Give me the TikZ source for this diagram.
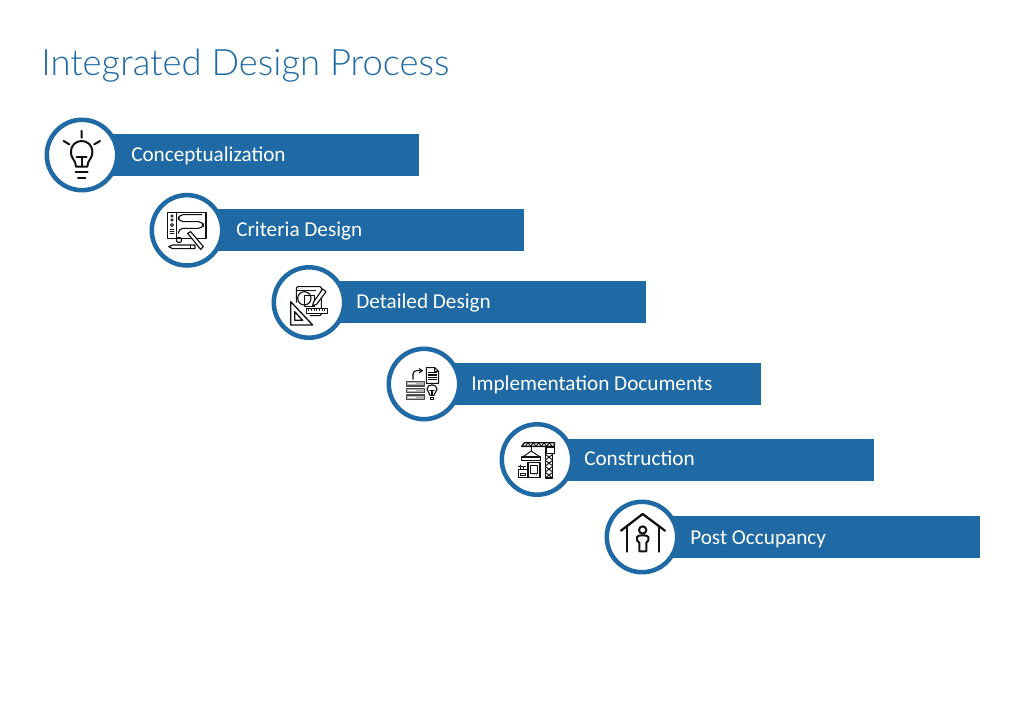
\documentclass[tikz,border=0pt]{standalone}
\usepackage{fontspec}
\setmainfont{Carlito}
\newfontfamily\titlefont{Lato Light}
\definecolor{brandblue}{HTML}{1F6AA5}
\definecolor{ink}{HTML}{111111}
\tikzset{
  barbox/.style={fill=brandblue,draw=none,inner sep=0pt,minimum height=31.5pt,anchor=west},
  ringbox/.style={circle,draw=brandblue,line width=3.4pt,fill=white,inner sep=0pt,minimum size=52.8pt},
  barlabel/.style={anchor=base west,inner sep=0pt,text=white,font=\fontsize{15.9}{18}\selectfont},
  icon/.style={draw=ink,line width=0.7pt,line cap=round,line join=round},
  iconbold/.style={draw=ink,line width=1.5pt,line cap=round,line join=round},
  icongrid/.style={scale=0.3333}
}
\begin{document}
\begin{tikzpicture}[x=0.75pt,y=-0.75pt]
\useasboundingbox (0,0) rectangle (1024,724);
\fill[white] (0,0) rectangle (1024,724);
\node[anchor=base west,inner sep=0pt,text=brandblue,font=\titlefont\fontsize{27.3}{32}\selectfont] (title) at (41,75) {Integrated Design Process};
% bars
\node[barbox,minimum width=252.75pt] (bar1) at (82,155) {};
\node[barbox,minimum width=252.75pt] (bar2) at (187,230.3) {};
\node[barbox,minimum width=252.75pt] (bar3) at (309,302.3) {};
\node[barbox,minimum width=252.75pt] (bar4) at (424,384) {};
\node[barbox,minimum width=252.75pt] (bar5) at (537,460) {};
\node[barbox,minimum width=253.5pt] (bar6) at (642,537) {};
% rings
\node[ringbox] (ring1) at (82,155) {};
\node[ringbox] (ring2) at (187,230.3) {};
\node[ringbox] (ring3) at (309,302.5) {};
\node[ringbox] (ring4) at (424,384) {};
\node[ringbox] (ring5) at (537,459.5) {};
\node[ringbox] (ring6) at (642,537) {};
% labels
\node[barlabel] (lab1) at (131,161) {Conceptualization};
\node[barlabel] (lab2) at (236,236.7) {Criteria Design};
\node[barlabel] (lab3) at (356,308.7) {Detailed Design};
\node[barlabel] (lab4) at (471,390.2) {Implementation Documents};
\node[barlabel] (lab5) at (584,465.7) {Construction};
\node[barlabel] (lab6) at (690,544.7) {Post Occupancy};
% icon 1: bulb
\begin{scope}[shift={(40,110)},icongrid]
\draw[iconbold] (125,62)--(125,83) (71,93)--(88,103) (180,93)--(163,103);
\draw[iconbold] (108,170) .. controls (108,150) and (93,148) .. (93,126) .. controls (93,82) and (157,82) .. (157,126) .. controls (157,148) and (142,150) .. (142,170) -- cycle;
\draw[iconbold] (110,140)--(140,140) (125,140)--(125,170);
\draw[iconbold] (107,186)--(143,186) (114,204)--(136,204);
\end{scope}
% icon 2: criteria board
\begin{scope}[shift={(150,190)},icongrid]
\draw[icon,line width=0.85pt] (52,68) rectangle (168,146);
\draw[icon] (78,68)--(78,146);
\draw[icon] (66,78) circle (3.5) (66,90) circle (3.5) (66,105) circle (4.5);
\draw[icon] (60,118)--(72,118) (60,124)--(72,124) (60,130)--(72,130);
\draw[icon,line width=0.85pt,rounded corners=3.5pt] (155,74)--(85,74)--(85,95)--(160,95)--(160,115)--(85,115)--(85,130);
\fill[white] (112,125)--(124,125)--(160,172)--(148,178)--cycle;
\draw[icon,line width=0.85pt] (113,130)--(122,125)--(160,170)--(152,178)--cycle;
\draw[icon,line width=0.85pt] (87,150) circle (8);
\draw[icon,line width=0.85pt] (56,170)--(68,165)--(135,165)--(135,176)--(68,176)--cycle;
\draw[icon] (122,165)--(122,176);
\end{scope}
% icon 3: drafting
\begin{scope}[shift={(272,265)},icongrid]
\draw[icon,line width=0.85pt,rounded corners=1pt] (73,112)--(73,65)--(148,65)--(148,152)--(115,152);
\draw[icon] (73,76)--(130,76);
\fill[ink] (78,71) circle (1) (84,71) circle (1) (90,71) circle (1);
\draw[icon,line width=0.85pt] (97,100) circle (20);
\draw[icon,line width=0.85pt] (98,92) rectangle (128,124);
\draw[icon,line width=0.85pt,fill=white] (124,112)--(152,72)--(162,80)--(134,118)--(122,122)--cycle;
\draw[icon,line width=0.85pt,fill=white] (103,130) rectangle (167,146);
\draw[icon] (110,130)--(110,136) (118,130)--(118,136) (126,130)--(126,136) (134,130)--(134,136) (142,130)--(142,136) (150,130)--(150,136) (158,130)--(158,136);
\draw[icon,line width=1pt,fill=white] (56,110)--(56,180)--(122,180)--cycle;
\draw[icon,line width=1pt] (68,140)--(68,166)--(92,166)--cycle;
\end{scope}
% icon 4: documents
\begin{scope}[shift={(387,346)},icongrid]
\draw[icon,line width=0.85pt,rounded corners=2.5pt] (78,100)--(78,74)--(100,74);
\draw[icon,line width=0.85pt] (97,68)--(106,74)--(97,80);
\draw[icon,line width=0.85pt] (118,65)--(143,65)--(155,77)--(155,112)--(118,112)--cycle;
\draw[icon] (143,65)--(143,77)--(155,77);
\draw[icon,line width=0.85pt] (124,80)--(149,80) (124,87)--(149,87) (124,94)--(149,94) (124,101)--(149,101);
\foreach \yy in {107,127,147} {
  \draw[icon,line width=0.9pt,draw=black!70,fill=black!30] (58,\yy) rectangle (112,\yy+13);
  \draw[white,line width=0.6pt] (64,\yy+6.5)--(88,\yy+6.5);
}
\draw[icon,line width=0.85pt] (129,148) .. controls (129,138) and (120,138) .. (120,130) .. controls (120,112) and (150,112) .. (150,130) .. controls (150,138) and (141,138) .. (141,148) -- cycle;
\draw[icon,line width=0.85pt] (130,155) rectangle (140,161) (135,133)--(135,148) (129,133)--(141,133);
\end{scope}
% icon 5: crane
\begin{scope}[shift={(500,421)},icongrid]
\draw[icon,line width=1pt] (65,76)--(74,65)--(163,65)--(163,76)--cycle;
\draw[icon] (76,76)--(84,65)--(92,76)--(100,65)--(108,76)--(116,65)--(124,76)--(132,65)--(140,76)--(148,65)--(156,76);
\draw[icon,line width=1pt] (136,76) rectangle (158,171);
\foreach \yy in {100,118,136,154} {\draw[icon] (136,\yy)--(158,\yy+17) (158,\yy)--(136,\yy+17);}
\draw[icon,fill=white,line width=0.85pt] (140,78) rectangle (164,97);
\draw[icon] (94,76)--(94,90) (68,108)--(94,90)--(120,108);
\draw[icon,line width=1pt] (65,108) rectangle (122,119);
\draw[icon,line width=1pt] (84,124) rectangle (120,170);
\draw[icon] (92,132) rectangle (112,156);
\fill[ink] (102,162) circle (1.5) (110,162) circle (1.5);
\draw[icon,line width=1pt] (55,146) rectangle (84,170);
\draw[icon] (60,132)--(60,146) (70,136)--(70,146) (55,136)--(76,136) (60,156) rectangle (76,164);
\end{scope}
% icon 6: house and person
\begin{scope}[shift={(605,499)},icongrid]
\draw[iconbold,line width=1.7pt] (48,95)--(113,45)--(180,95);
\draw[iconbold,line width=1.7pt] (65,84)--(65,158) (163,84)--(163,158);
\draw[iconbold] (113,93) circle (11);
\draw[iconbold] (103,157)--(103,131) .. controls (96,128) and (94,122) .. (96,114) .. controls (98,107) and (128,107) .. (130,114) .. controls (132,122) and (130,128) .. (124,131) -- (124,157) -- cycle;
\end{scope}
\end{tikzpicture}
\end{document}
